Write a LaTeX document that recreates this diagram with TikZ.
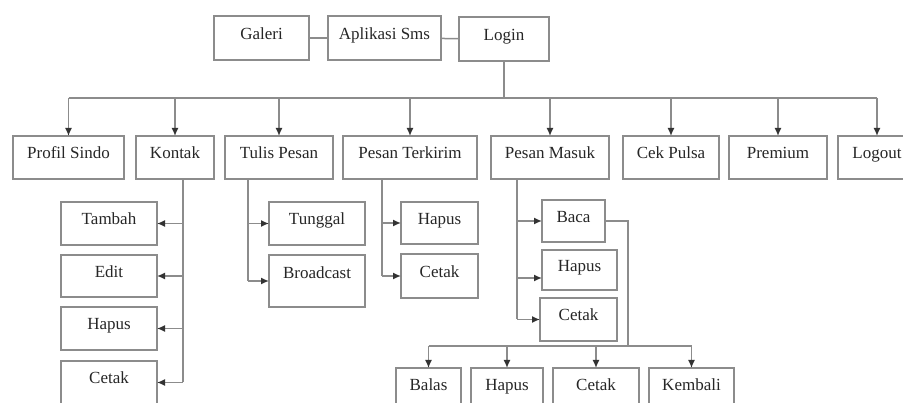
\documentclass[tikz,border=0pt]{standalone}
\usepackage{fontspec}
\setmainfont{Liberation Serif}
\usetikzlibrary{arrows.meta}
\begin{document}
\begin{tikzpicture}[x=1pt, y=-1pt, line width=1.5pt, color=black!45]
	\tikzstyle{arrow}=[draw, -{Latex[length=8pt, width=7pt, color=black!80]}]
	\tikzstyle{menu}=[text=black!85, font=\fontsize{17}{19}\selectfont, inner sep=0pt, outer sep=0pt, text height=0.7em, text depth=0.4em]
	\newcommand\Ybus{98}
	\newcommand\Ysub{346}

	\useasboundingbox (0,0) rectangle (903,403);

	% top
\foreach \xa/\ya/\xb/\yb/\name/\txt in {214/16/309/60/galeri/Galeri, 328/16/441/60/aplikasi/Aplikasi Sms, 459/17/549/61/login/Login}
{
	\pgfmathsetmacro{\W}{\xb-\xa}
	\pgfmathsetmacro{\H}{\yb-\ya}
	\draw (\xa,\ya) rectangle (\xb,\yb) node [menu, midway, minimum width=\W pt, minimum height=\H pt] (\name) {\txt};
}

	% menu
\foreach \xa/\xb/\name/\txt in {13/124/profil/Profil Sindo, 136/214/kontak/Kontak, 225/333/tulis/Tulis Pesan, 343/477/terkirim/Pesan Terkirim, 491/609/masuk/Pesan Masuk, 623/719/cekpulsa/Cek Pulsa, 729/827/premium/Premium, 838/916/logout/Logout}
{
	\pgfmathsetmacro{\W}{\xb-\xa}
	\draw (\xa,136) rectangle (\xb,179) node [menu, midway, minimum width=\W pt, minimum height=43pt] (\name) {\txt};
}

	% sub menus
\foreach \xa/\ya/\xb/\yb/\name/\txt in {61/202/157/245/tambah/Tambah, 61/255/157/297/edit/Edit, 61/307/157/350/hapusk/Hapus, 61/361/157/404/cetakk/Cetak, 269/202/365/245/tunggal/Tunggal, 401/202/478/244/hapust/Hapus, 401/254/478/298/cetakt/Cetak, 542/200/605/242/baca/Baca, 542/250/617/290/hapusm/Hapus, 540/298/617/341/cetakm/Cetak, 396/368/461/411/balas/Balas, 471/368/543/411/hapusb/Hapus, 553/368/639/411/cetakb/Cetak, 649/368/734/411/kembali/Kembali}
{
	\pgfmathsetmacro{\W}{\xb-\xa}
	\pgfmathsetmacro{\H}{\yb-\ya}
	\draw (\xa,\ya) rectangle (\xb,\yb) node [menu, midway, minimum width=\W pt, minimum height=\H pt] (\name) {\txt};
}
	\draw (269,255) rectangle (365,307) node [menu, midway, minimum width=96pt, minimum height=52pt, text depth=1.15em] (broadcast) {Broadcast};

	\draw (galeri) -- (aplikasi);
	\draw (aplikasi) -- (login);

	\coordinate (bus) at (0,\Ybus);
	\draw (login.south) -- (login.south |- bus);
	\draw (profil.north |- bus) -- (logout.north |- bus);
\foreach \n in {profil,kontak,tulis,terkirim,masuk,cekpulsa,premium,logout}
{
	\path [arrow] (\n.north |- bus) -- (\n.north);
}

	% Kontak
	\coordinate (kbar) at (183,0);
	\draw (kbar |- kontak.south) -- (kbar |- cetakk.east);
\foreach \n in {tambah,edit,hapusk,cetakk}
{
	\path [arrow] (kbar |- \n.east) -- (\n.east);
}

	% Tulis Pesan
	\coordinate (tbar) at (248,0);
	\draw (tbar |- tulis.south) -- (tbar |- broadcast.west);
\foreach \n in {tunggal,broadcast}
{
	\path [arrow] (tbar |- \n.west) -- (\n.west);
}

	% Pesan Terkirim
	\coordinate (pbar) at (382,0);
	\draw (pbar |- terkirim.south) -- (pbar |- cetakt.west);
\foreach \n in {hapust,cetakt}
{
	\path [arrow] (pbar |- \n.west) -- (\n.west);
}

	% Pesan Masuk
	\coordinate (mbar) at (517,0);
	\draw (mbar |- masuk.south) -- (mbar |- cetakm.west);
	\path [arrow] (mbar |- baca.west) -- (baca.west);
	\path [arrow] ([yshift=-8pt]mbar |- hapusm.west) -- ([yshift=-8pt]hapusm.west);
	\path [arrow] (mbar |- cetakm.west) -- (cetakm.west);

	% Baca
	\coordinate (bus2) at (628,\Ysub);
	\draw (baca.east) -| (bus2);
	\draw (balas.north |- bus2) -- (kembali.north |- bus2);
\foreach \n in {balas,hapusb,cetakb,kembali}
{
	\path [arrow] (\n.north |- bus2) -- (\n.north);
}

\end{tikzpicture}
\end{document}
